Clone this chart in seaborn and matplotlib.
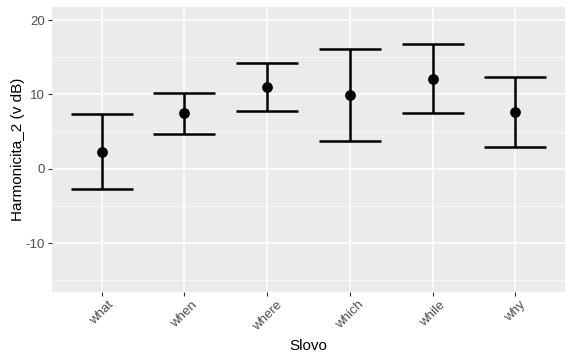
import pandas as pd
import matplotlib
matplotlib.use('Agg')
import matplotlib.pyplot as plt
import seaborn as sns

# --- Data ---
words = ['what', 'when', 'where', 'which', 'while', 'why']
means = [2.2, 7.45, 11.0, 9.9, 12.05, 7.65]
upper = [7.35, 10.25, 14.2, 16.1, 16.8, 12.35]
lower = [-2.75, 4.7, 7.75, 3.75, 7.55, 2.9]

df = pd.DataFrame({'Slovo': words, 'mean': means, 'upper': upper, 'lower': lower})

# --- ggplot-like theme ---
sns.set_theme(style='darkgrid', rc={
    'axes.facecolor': '#EBEBEB',
    'grid.color': 'white',
    'axes.edgecolor': '#EBEBEB',
})
plt.rcParams['font.family'] = ['Liberation Sans', 'DejaVu Sans']
plt.rcParams['axes.unicode_minus'] = False

fig, ax = plt.subplots(figsize=(5.85, 3.58), dpi=100)
fig.subplots_adjust(left=0.089, right=0.966, top=0.980, bottom=0.184)

yerr = [df['mean'] - df['lower'], df['upper'] - df['mean']]
ax.errorbar(df['Slovo'], df['mean'], yerr=yerr, fmt='none', ecolor='black',
            elinewidth=1.8, capsize=22.5, capthick=1.8, zorder=3)
sns.scatterplot(data=df, x='Slovo', y='mean', color='black', s=60,
                edgecolor='black', linewidth=0, ax=ax, zorder=4)

ax.set_xlim(-0.6, 5.6)
ax.set_ylim(-16.6, 21.75)
ax.set_yticks([-10, 0, 10, 20])
ax.set_yticks([-15, -5, 5, 15], minor=True)
ax.grid(which='major', color='white', linewidth=1.1)
ax.grid(which='minor', axis='y', color='white', linewidth=0.5)
ax.set_axisbelow(True)
for s in ax.spines.values():
    s.set_visible(False)

ax.tick_params(axis='both', which='major', length=3, width=0.8, color='#333333',
               labelcolor='#4D4D4D', labelsize=9.5, pad=2, left=True, bottom=True)
ax.tick_params(axis='both', which='minor', length=0)
plt.setp(ax.get_xticklabels(), rotation=45, ha='center', va='top')

ax.set_xlabel('Slovo', fontsize=11, color='black', labelpad=4)
ax.set_ylabel('Harmonicita_2 (v dB)', fontsize=11, color='black')
ax.yaxis.set_label_coords(-(52 - 25) / 513, 0.5)

plt.savefig('out.png', dpi=100)
plt.close()
